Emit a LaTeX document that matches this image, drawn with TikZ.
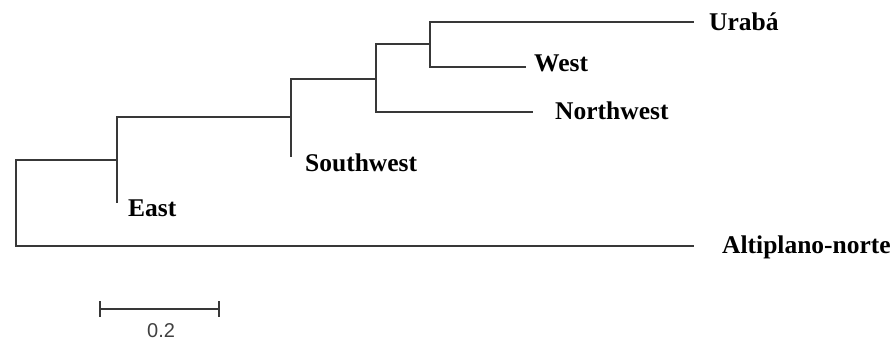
\documentclass[tikz,border=0pt]{standalone}
\usepackage{fontspec}
\setmainfont{Liberation Serif}
\newfontfamily\barfont{Liberation Sans}
\begin{document}
\begin{tikzpicture}[x=1bp,y=-1bp,
  branch/.style={draw=black!78, line width=1.6bp, line cap=rect},
  taxon/.style={anchor=base west, inner sep=0pt, font=\fontsize{25.5bp}{30bp}\selectfont\bfseries, text=black},
  scalelbl/.style={anchor=base west, inner sep=0pt, font=\barfont\fontsize{20bp}{22bp}\selectfont, text=black!75}]
\useasboundingbox (0,0) rectangle (891,341);
% internal nodes
\coordinate (root) at (16,160);
\coordinate (rootb) at (16,246);
\coordinate (nA) at (117,160);
\coordinate (nAt) at (117,117);
\coordinate (eastend) at (117,202);
\coordinate (nB) at (291,117);
\coordinate (nBt) at (291,79);
\coordinate (swend) at (291,156);
\coordinate (nC) at (376,79);
\coordinate (nCt) at (376,44);
\coordinate (nCb) at (376,112);
\coordinate (nD) at (430,44);
\coordinate (nDt) at (430,22);
\coordinate (nDb) at (430,67);
\coordinate (urend) at (693,22);
\coordinate (wend) at (525,67);
\coordinate (nwend) at (532,112);
\coordinate (alend) at (693,246);
% branches
\draw[branch] (nA) -- (root) -- (rootb) -- (alend);
\draw[branch] (eastend) -- (nAt) -- (nB);
\draw[branch] (swend) -- (nBt) -- (nC);
\draw[branch] (nCb) -- (nCt) -- (nD);
\draw[branch] (nCb) -- (nwend);
\draw[branch] (nDb) -- (nDt) -- (urend);
\draw[branch] (nDb) -- (wend);
% labels
\node[taxon] (Uraba) at (709,30) {Urabá};
\node[taxon] (West) at (534,71) {West};
\node[taxon] (Northwest) at (555,119) {Northwest};
\node[taxon] (Southwest) at (305,171) {Southwest};
\node[taxon] (East) at (128,216) {East};
\node[taxon] (Alti) at (722,253) {Altiplano-norte};
% scale bar
\coordinate (s1) at (100,309);
\coordinate (s2) at (219,309);
\coordinate (s1t) at (100,301);
\coordinate (s1b) at (100,317);
\coordinate (s2t) at (219,301);
\coordinate (s2b) at (219,317);
\draw[branch, line cap=butt] (s1) -- (s2);
\draw[branch, line cap=butt] (s1t) -- (s1b);
\draw[branch, line cap=butt] (s2t) -- (s2b);
\node[scalelbl] (scale) at (147,337) {0.2};
\end{tikzpicture}
\end{document}
